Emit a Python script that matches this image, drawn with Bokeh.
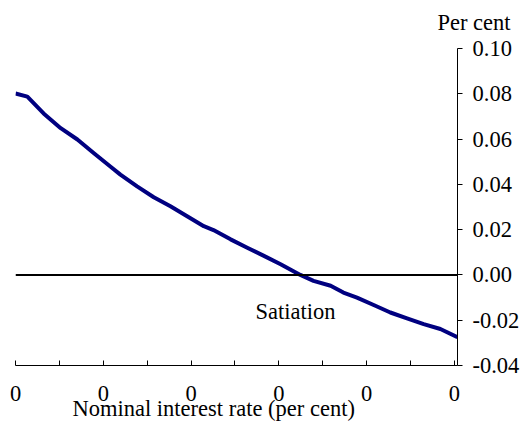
from bokeh.plotting import figure
from bokeh.models import Range1d, FixedTicker, NumeralTickFormatter, Span, Label, Title
from bokeh.embed import file_html
from bokeh.resources import INLINE

# --- data ---
rate = [0.00, 0.27, 0.64, 1.03, 1.41, 1.78, 2.16, 2.39, 2.77, 3.15, 3.53, 3.91,
        4.29, 4.51, 4.90, 5.28, 5.66, 6.04, 6.49, 6.79, 7.18, 7.47, 7.78, 8.16,
        8.54, 8.92, 9.30, 9.68, 10.07]
gap = [0.0801, 0.0787, 0.0713, 0.0648, 0.0598, 0.0538, 0.0479, 0.0443, 0.0391,
       0.0343, 0.0303, 0.0259, 0.0215, 0.0198, 0.0157, 0.0120, 0.0084, 0.0047,
       0.0000, -0.0026, -0.0048, -0.0078, -0.0100, -0.0133, -0.0166, -0.0192,
       -0.0217, -0.0239, -0.0275]

x_major = [0, 2, 4, 6, 8, 10]
x_minor = [1, 3, 5, 7, 9]
x_labels = ["0", "0", "0", "0", "0", "0"]
y_ticks = [-0.04, -0.02, 0.0, 0.02, 0.04, 0.06, 0.08, 0.10]
y_min, y_max = -0.04, 0.10
x_title = "Nominal interest rate (per cent)"
y_unit = "Per cent"
note_text = "Satiation"
note_x = 6.38
note_y = -0.0163

FONT = "Liberation Serif"
FS = "22.5px"

p = figure(width=531, height=428, output_backend="svg", toolbar_location=None,
           x_range=Range1d(0, 10.07), y_range=Range1d(y_min, y_max + 0.00307),
           y_axis_location="right",
           min_border_left=15, min_border_top=39, min_border_right=74,
           min_border_bottom=63)
p.outline_line_color = None
p.grid.visible = False
p.background_fill_color = "white"
p.border_fill_color = "white"

xa = p.xaxis[0]
xa.ticker = FixedTicker(ticks=x_major, minor_ticks=x_minor)
xa.major_label_overrides = {k: v for k, v in zip(x_major, x_labels)}
xa.major_tick_in = 5
xa.major_tick_out = 0
xa.minor_tick_in = 5
xa.minor_tick_out = 0
xa.axis_line_color = "black"
xa.major_tick_line_color = "black"
xa.minor_tick_line_color = "black"
xa.major_label_standoff = 20
xa.major_label_text_font = FONT
xa.major_label_text_font_size = FS
xa.major_label_text_color = "black"

ya = p.yaxis[0]
ya.bounds = (y_min, y_max)
ya.ticker = FixedTicker(ticks=y_ticks)
ya.formatter = NumeralTickFormatter(format="0.00")
ya.major_tick_in = 0
ya.major_tick_out = 5
ya.minor_tick_line_color = None
ya.axis_line_color = "black"
ya.major_tick_line_color = "black"
ya.major_label_standoff = 10
ya.major_label_text_font = FONT
ya.major_label_text_font_size = FS
ya.major_label_text_color = "black"

p.add_layout(Title(text=y_unit, align="left", offset=422, standoff=14,
                   text_font=FONT, text_font_size=FS, text_font_style="normal",
                   text_color="black"), "above")
p.add_layout(Title(text=x_title, align="left", offset=57, standoff=-20,
                   text_font=FONT, text_font_size=FS, text_font_style="normal",
                   text_color="black"), "below")

p.add_layout(Span(location=0, dimension="width", line_color="black", line_width=2))

p.line(rate, gap, line_color="#000080", line_width=4, line_join="round")

p.add_layout(Label(x=note_x, y=note_y, text=note_text, text_align="center",
                   text_baseline="alphabetic", text_font=FONT, text_font_size=FS,
                   text_color="black"))

open("out.html", "w").write(file_html(p, INLINE))
